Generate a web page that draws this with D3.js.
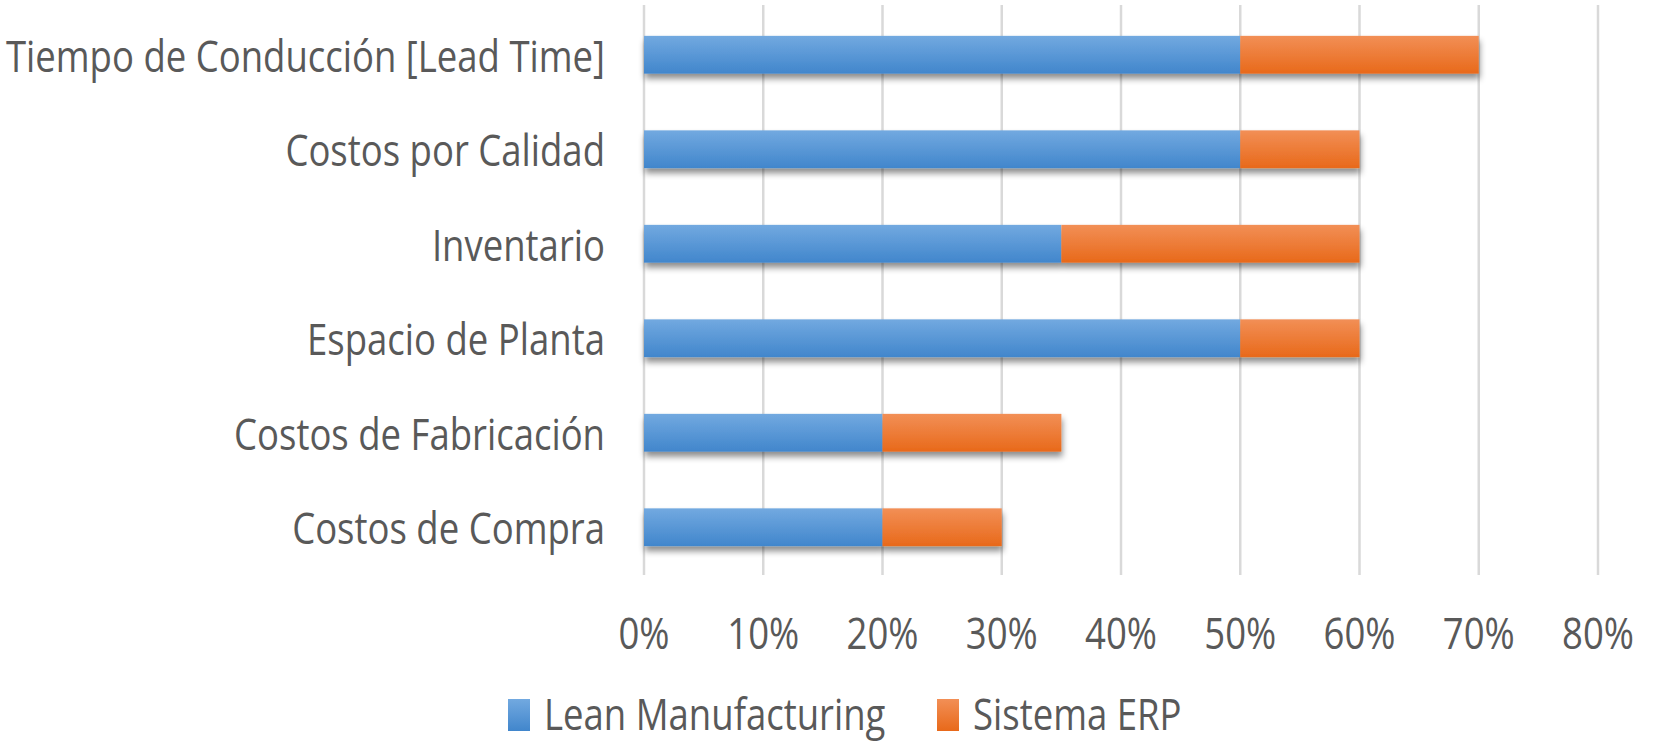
<!DOCTYPE html>
<html>
<head>
<meta charset="utf-8">
<script src="https://cdn.jsdelivr.net/npm/d3@7"></script>
<style>
  html, body { margin: 0; padding: 0; background: #fff; }
  svg { display: block; }
  text { font-family: "Open Sans", sans-serif; fill: #595959; }
</style>
</head>
<body>
<svg id="chart" width="1655" height="745"></svg>
<script>
// data
const categories = [
  "Tiempo de Conducción [Lead Time]",
  "Costos por Calidad",
  "Inventario",
  "Espacio de Planta",
  "Costos de Fabricación",
  "Costos de Compra"
];
const lean_values = [0.50, 0.50, 0.35, 0.50, 0.20, 0.20];
const erp_values  = [0.20, 0.10, 0.25, 0.10, 0.15, 0.10];
const series_names = ["Lean Manufacturing", "Sistema ERP"];
const tick_values = [0, 0.1, 0.2, 0.3, 0.4, 0.5, 0.6, 0.7, 0.8];

const font_size = 44;
const squash = 0.83; // text in the picture is horizontally narrow

const svg = d3.select("#chart");

const x = d3.scaleLinear().domain([0, 0.8]).range([644, 1598]);
const y = d3.scaleBand().domain(categories).range([7.5, 574.5])
    .paddingInner(0.6).paddingOuter(0.3);

const defs = svg.append("defs");

function add_gradient(id, top, bottom) {
    const g = defs.append("linearGradient")
        .attr("id", id)
        .attr("x1", 0).attr("y1", 0).attr("x2", 0).attr("y2", 1);
    g.append("stop").attr("offset", "0%").attr("stop-color", top);
    g.append("stop").attr("offset", "100%").attr("stop-color", bottom);
}
add_gradient("grad-blue", "#72a9e0", "#4186cc");
add_gradient("grad-orange", "#f28f56", "#e8691a");

const shadow = defs.append("filter")
    .attr("id", "bar-shadow")
    .attr("x", "-5%").attr("y", "-30%")
    .attr("width", "115%").attr("height", "180%");
shadow.append("feDropShadow")
    .attr("dx", 1).attr("dy", 5)
    .attr("stdDeviation", 3)
    .attr("flood-color", "#000")
    .attr("flood-opacity", 0.45);

// gridlines
svg.append("g")
    .attr("class", "grid")
    .selectAll("line")
    .data(tick_values)
    .enter().append("line")
    .attr("x1", d => x(d)).attr("x2", d => x(d))
    .attr("y1", 5).attr("y2", 575)
    .attr("stroke", "#d9d9d9")
    .attr("stroke-width", 2.5);

// stacked bars
const rows = categories.map((c, i) => ({
    cat: c,
    segs: [
        { start: 0, end: lean_values[i], fill: "url(#grad-blue)" },
        { start: lean_values[i], end: lean_values[i] + erp_values[i], fill: "url(#grad-orange)" }
    ]
}));

const bar_rows = svg.append("g")
    .attr("class", "bars")
    .selectAll("g")
    .data(rows)
    .enter().append("g")
    .attr("filter", "url(#bar-shadow)");

bar_rows.selectAll("rect")
    .data(d => d.segs.map(s => Object.assign({ cat: d.cat }, s)))
    .enter().append("rect")
    .attr("x", d => x(d.start))
    .attr("y", d => y(d.cat))
    .attr("width", d => x(d.end) - x(d.start))
    .attr("height", y.bandwidth())
    .attr("fill", d => d.fill);

// category labels
svg.append("g")
    .attr("class", "y-labels")
    .selectAll("text")
    .data(categories)
    .enter().append("text")
    .attr("transform", d => `translate(605,${y(d) + y.bandwidth() / 2}) scale(${squash},1)`)
    .attr("text-anchor", "end")
    .attr("dominant-baseline", "central")
    .style("font-size", font_size + "px")
    .text(d => d);

// tick labels
svg.append("g")
    .attr("class", "x-labels")
    .selectAll("text")
    .data(tick_values)
    .enter().append("text")
    .attr("transform", d => `translate(${x(d)},649) scale(${squash},1)`)
    .attr("text-anchor", "middle")
    .style("font-size", font_size + "px")
    .text(d3.format(".0%"));

// legend
const legend_x = [508, 937];
const legend = svg.append("g")
    .attr("class", "legend")
    .selectAll("g")
    .data(series_names)
    .enter().append("g")
    .attr("transform", (d, i) => `translate(${legend_x[i]},0)`);

legend.append("rect")
    .attr("x", 0).attr("y", 699)
    .attr("width", 22).attr("height", 32)
    .attr("fill", (d, i) => i === 0 ? "url(#grad-blue)" : "url(#grad-orange)");

legend.append("text")
    .attr("transform", `translate(36,730) scale(${squash},1)`)
    .style("font-size", font_size + "px")
    .text(d => d);
</script>
</body>
</html>
